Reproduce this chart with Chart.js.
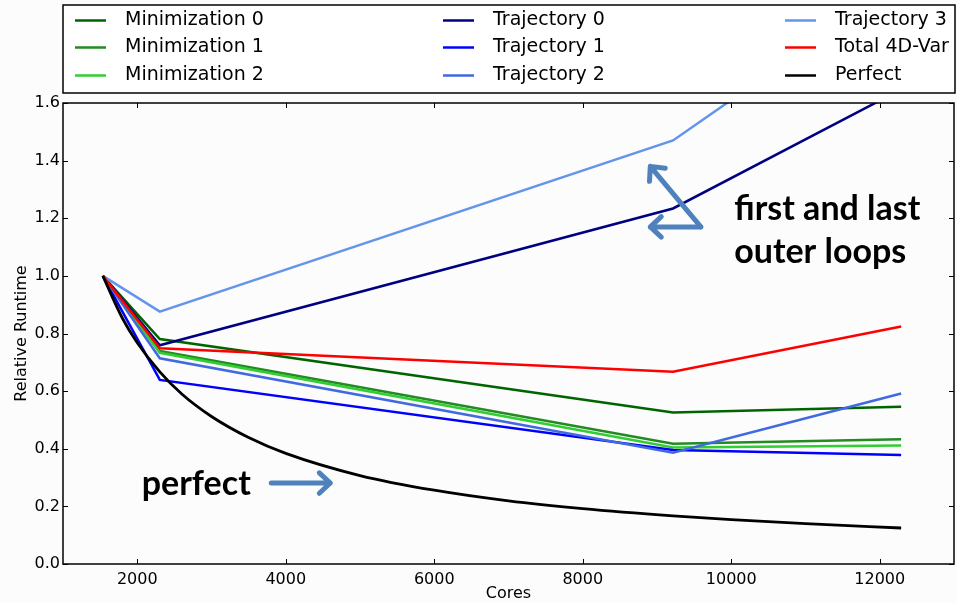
<!DOCTYPE html>
<html>
<head>
<meta charset="utf-8">
<script src="https://cdn.jsdelivr.net/npm/chart.js@4/dist/chart.umd.min.js"></script>
<style>
  html, body { margin: 0; padding: 0; background: #fbfcfb; }
  #wrap { width: 957px; height: 603px; }
</style>
</head>
<body>
<div id="wrap"><canvas id="chart" width="957" height="603"></canvas></div>
<script>
// Datos
const cores = [1536, 2304, 9216, 12288];
const minimization0 = [1.0, 0.781, 0.526, 0.546];
const minimization1 = [1.0, 0.739, 0.417, 0.433];
const minimization2 = [1.0, 0.733, 0.404, 0.411];
const trajectory0 = [1.0, 0.759, 1.234, 1.647];
const trajectory1 = [1.0, 0.639, 0.396, 0.378];
const trajectory2 = [1.0, 0.714, 0.386, 0.592];
const trajectory3 = [1.0, 0.876, 1.470, 2.02];
const total4dvar = [1.0, 0.749, 0.667, 0.824];

const perfectCores = [1536, 1800, 2000, 2304, 2600, 3000, 3500, 4000, 5000, 6000, 7000, 8000, 9216, 10000, 11000, 12288];
const perfectRuntime = [1.0, 0.853, 0.768, 0.667, 0.59, 0.512, 0.439, 0.384, 0.307, 0.256, 0.219, 0.192, 0.167, 0.154, 0.140, 0.125];

const xTickValues = [2000, 4000, 6000, 8000, 10000, 12000];
const yTickValues = [0, 0.2, 0.4, 0.6, 0.8, 1.0, 1.2, 1.4, 1.6];

const seriesLabels = ['Minimization 0', 'Minimization 1', 'Minimization 2', 'Trajectory 0', 'Trajectory 1', 'Trajectory 2', 'Trajectory 3', 'Total 4D-Var', 'Perfect'];
const seriesColors = ['#006400', '#228b22', '#32cd32', '#000080', '#0000ff', '#4169e1', '#6495ed', '#ff0000', '#000000'];

const toPoints = (xs, ys) => xs.map((x, i) => ({ x: x, y: ys[i] }));

const seriesData = [
    toPoints(cores, minimization0),
    toPoints(cores, minimization1),
    toPoints(cores, minimization2),
    toPoints(cores, trajectory0),
    toPoints(cores, trajectory1),
    toPoints(cores, trajectory2),
    toPoints(cores, trajectory3),
    toPoints(cores, total4dvar),
    toPoints(perfectCores, perfectRuntime)
];

const datasets = seriesLabels.map((label, i) => ({
    label: label,
    data: seriesData[i],
    borderColor: seriesColors[i],
    backgroundColor: seriesColors[i],
    borderWidth: label === 'Perfect' ? 2.8 : 2.5,
    pointRadius: 0,
    fill: false,
    tension: 0,
    cubicInterpolationMode: label === 'Perfect' ? 'monotone' : 'default',
    // los últimos se dibujan encima, como en matplotlib
    order: seriesLabels.length - i
}));

const AXIS_FONT = 'DejaVu Sans';
const ARROW_COLOR = '#4f81bd';

function drawArrow(ctx, x1, y1, x2, y2) {
    const ang = Math.atan2(y2 - y1, x2 - x1);
    const head = 15;
    ctx.beginPath();
    ctx.moveTo(x1, y1);
    ctx.lineTo(x2, y2);
    ctx.moveTo(x2 - head * Math.cos(ang - 0.75), y2 - head * Math.sin(ang - 0.75));
    ctx.lineTo(x2, y2);
    ctx.lineTo(x2 - head * Math.cos(ang + 0.75), y2 - head * Math.sin(ang + 0.75));
    ctx.stroke();
}

// Marco, marcas hacia dentro, leyenda y anotaciones
const extrasPlugin = {
    id: 'extras',
    afterDraw(chart) {
        const { ctx, chartArea: a, scales } = chart;
        const sx = scales.x, sy = scales.y;
        ctx.save();

        // marcas de los ejes (hacia dentro, en los cuatro lados)
        ctx.strokeStyle = '#000';
        ctx.lineWidth = 1;
        ctx.beginPath();
        xTickValues.forEach(v => {
            const px = Math.round(sx.getPixelForValue(v)) + 0.5;
            ctx.moveTo(px, a.bottom); ctx.lineTo(px, a.bottom - 5);
            ctx.moveTo(px, a.top); ctx.lineTo(px, a.top + 5);
        });
        yTickValues.forEach(v => {
            const py = Math.round(sy.getPixelForValue(v)) + 0.5;
            ctx.moveTo(a.left, py); ctx.lineTo(a.left + 5, py);
            ctx.moveTo(a.right, py); ctx.lineTo(a.right - 5, py);
        });
        ctx.stroke();

        // marco
        ctx.lineWidth = 1.5;
        ctx.strokeRect(a.left, a.top, a.right - a.left, a.bottom - a.top);

        // leyenda en tres columnas
        const box = { left: 63, top: 5, right: 955, bottom: 93 };
        ctx.fillStyle = '#ffffff';
        ctx.fillRect(box.left, box.top, box.right - box.left, box.bottom - box.top);
        ctx.strokeStyle = '#000';
        ctx.lineWidth = 1.5;
        ctx.strokeRect(box.left, box.top, box.right - box.left, box.bottom - box.top);
        const colX = [75, 443, 785];
        const rowY = [20.5, 47.5, 75.5];
        ctx.font = '19px "' + AXIS_FONT + '"';
        ctx.textBaseline = 'middle';
        ctx.textAlign = 'left';
        chart.data.datasets.forEach((ds, i) => {
            const col = Math.floor(i / 3), row = i % 3;
            const lx = colX[col], ly = rowY[row];
            ctx.strokeStyle = ds.borderColor;
            ctx.lineWidth = 2.5;
            ctx.beginPath();
            ctx.moveTo(lx, ly); ctx.lineTo(lx + 31, ly);
            ctx.stroke();
            ctx.fillStyle = '#000';
            ctx.fillText(ds.label, lx + 50, ly);
        });

        // anotaciones
        ctx.save();
        ctx.beginPath();
        ctx.rect(a.left, a.top, a.right - a.left, a.bottom - a.top);
        ctx.clip();
        ctx.strokeStyle = ARROW_COLOR;
        ctx.lineWidth = 5;
        ctx.lineCap = 'round';
        ctx.lineJoin = 'round';
        const cx = sx.getPixelForValue(9590), cy = sy.getPixelForValue(1.17);
        drawArrow(ctx, cx, cy, sx.getPixelForValue(8910), sy.getPixelForValue(1.38));
        drawArrow(ctx, cx, cy, sx.getPixelForValue(8910), sy.getPixelForValue(1.17));
        drawArrow(ctx, sx.getPixelForValue(3805), sy.getPixelForValue(0.281), sx.getPixelForValue(4600), sy.getPixelForValue(0.281));

        ctx.fillStyle = '#000';
        ctx.font = 'bold 34px Lato';
        ctx.textBaseline = 'alphabetic';
        ctx.textAlign = 'left';
        ctx.fillText('first and last', sx.getPixelForValue(10040), sy.getPixelForValue(1.194));
        ctx.fillText('outer loops', sx.getPixelForValue(10040), sy.getPixelForValue(1.045));
        ctx.fillText('perfect', sx.getPixelForValue(2060), sy.getPixelForValue(0.2395));
        ctx.restore();

        ctx.restore();
    }
};

const bgPlugin = {
    id: 'bg',
    beforeDraw(chart) {
        const { ctx } = chart;
        ctx.save();
        ctx.fillStyle = '#fbfcfb';
        ctx.fillRect(0, 0, chart.width, chart.height);
        ctx.restore();
    }
};

new Chart(document.getElementById('chart'), {
    type: 'line',
    data: { datasets: datasets },
    plugins: [bgPlugin, extrasPlugin],
    options: {
        responsive: false,
        animation: false,
        layout: { padding: { top: 103, right: 3, left: 0, bottom: 0 } },
        plugins: {
            legend: { display: false },
            tooltip: { enabled: false }
        },
        scales: {
            x: {
                type: 'linear',
                min: 1000,
                max: 13000,
                afterBuildTicks: s => { s.ticks = xTickValues.map(v => ({ value: v })); },
                afterFit: s => { s.height = 39; },
                grid: { display: false, drawTicks: false },
                border: { display: false },
                ticks: {
                    color: '#000',
                    padding: 6,
                    maxRotation: 0,
                    font: { family: AXIS_FONT, size: 16 },
                    callback: v => String(v)
                },
                title: {
                    display: true,
                    text: 'Cores',
                    color: '#000',
                    padding: { top: 0, bottom: 0 },
                    font: { family: AXIS_FONT, size: 16 }
                }
            },
            y: {
                type: 'linear',
                min: 0,
                max: 1.6,
                afterBuildTicks: s => { s.ticks = yTickValues.map(v => ({ value: v })); },
                afterFit: s => { s.width = 63; },
                grid: { display: false, drawTicks: false },
                border: { display: false },
                ticks: {
                    color: '#000',
                    padding: 3,
                    font: { family: AXIS_FONT, size: 16 },
                    callback: v => v.toFixed(1)
                },
                title: {
                    display: true,
                    text: 'Relative Runtime',
                    color: '#000',
                    padding: { top: 12, bottom: 4 },
                    font: { family: AXIS_FONT, size: 16 }
                }
            }
        }
    }
});
</script>
</body>
</html>
